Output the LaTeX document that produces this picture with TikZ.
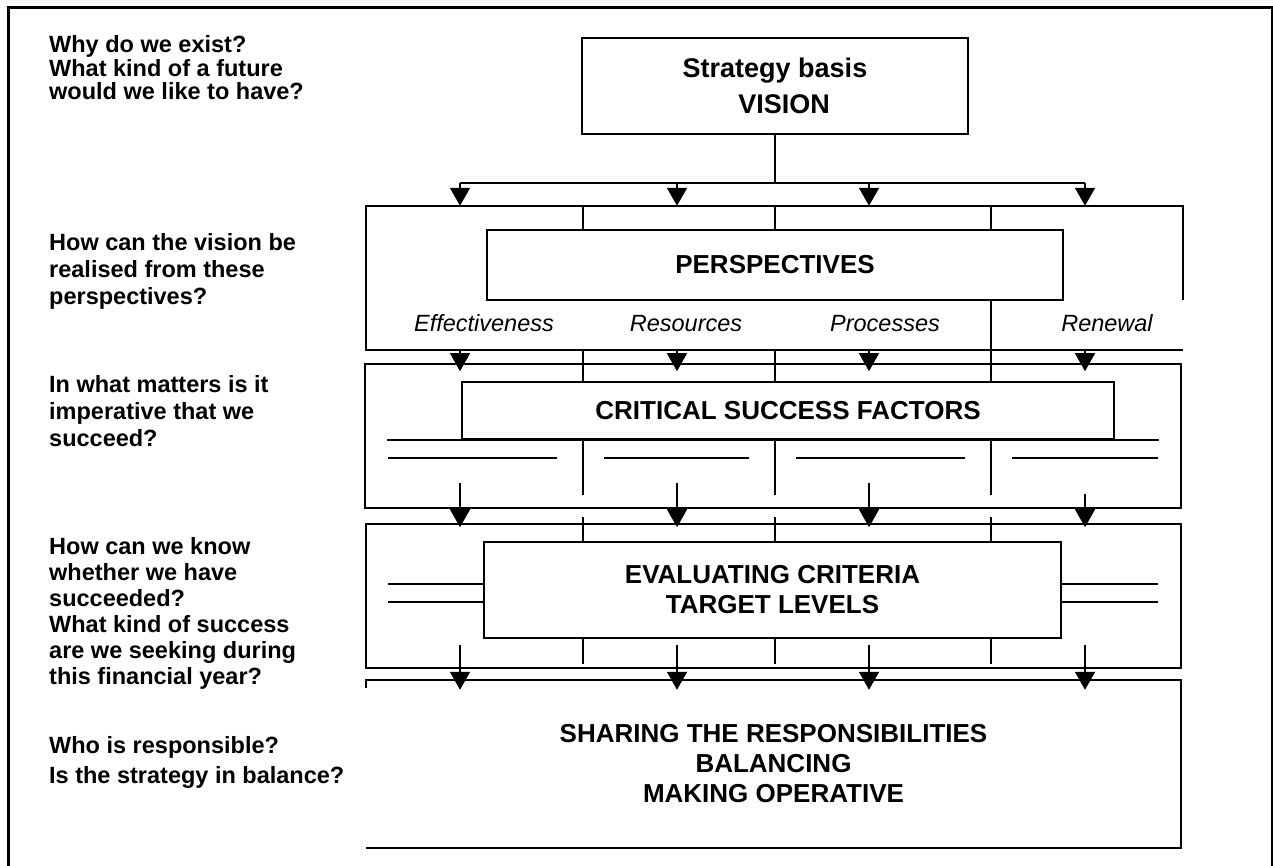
\documentclass[tikz,border=0pt]{standalone}
\usepackage{fontspec}
\setmainfont{Liberation Sans}
\usetikzlibrary{arrows.meta, positioning, calc}

\newcommand{\panelfont}{\fontsize{26}{30}\selectfont\bfseries}
\newcommand{\viewfont}{\fontsize{23.5}{28}\selectfont\itshape}

\tikzstyle{frame} = [line width=3pt]
\tikzstyle{wire} = [line width=1.6pt]
\tikzstyle{panel} = [
  rectangle, draw, line width=1.6pt, inner sep=0pt,
  align=center, font=\panelfont
]
\tikzstyle{shell} = [rectangle, inner sep=0pt]
% anchored on the baseline of the last line
\tikzstyle{question} = [anchor=base west, align=left, inner sep=0pt]
\tikzstyle{view} = [font=\viewfont, inner sep=0pt, anchor=base]
\tikzstyle{arrow} = [-{Triangle[length=18pt, width=20pt]}, line width=1.6pt]

\begin{document}
\begin{tikzpicture}[x=1pt, y=-1pt]
  \useasboundingbox (0,0) rectangle (1273,866);

  % Frame
  \draw[frame] (8,866) -- (8,8) -- (1272,8) -- (1272,866);

  % Questions
  \node[question, font=\fontsize{23.5}{23.5}\selectfont\bfseries] (why) at (49,100)
    {Why do we exist?\\What kind of a future\\would we like to have?};
  \node[question, font=\fontsize{23.5}{27}\selectfont\bfseries] (how) at (49,305)
    {How can the vision be\\realised from these\\perspectives?};
  \node[question, font=\fontsize{23.5}{27}\selectfont\bfseries] (what) at (49,446)
    {In what matters is it\\imperative that we\\succeed?};
  \node[question, font=\fontsize{23.5}{26}\selectfont\bfseries] (know) at (49,684)
    {How can we know\\whether we have\\succeeded?\\What kind of success\\are we seeking during\\this financial year?};
  \node[question, font=\fontsize{23.5}{30}\selectfont\bfseries] (who) at (49,783)
    {Who is responsible?\\Is the strategy in balance?};

  % Boxes
  \node[panel, minimum width=386, minimum height=96,
        font=\fontsize{27}{36}\selectfont\bfseries] (vision) at (775,86)
    {Strategy basis\\\hspace*{18pt}VISION};
  \node[shell, minimum width=817, minimum height=144] (perspout) at (774.5,278) {};
  \node[panel, minimum width=576, minimum height=70] (perspin) at (775,265) {PERSPECTIVES};
  \node[panel, minimum width=816, minimum height=144] (csfout) at (773,436) {};
  \node[panel, fill=white, minimum width=652, minimum height=57] (csfin) at (788,410.5)
    {CRITICAL SUCCESS FACTORS};
  \node[panel, minimum width=815, minimum height=144] (evalout) at (773.5,596) {};
  \node[panel, minimum width=577, minimum height=96] (evalin) at (772.5,590)
    {EVALUATING CRITERIA\\TARGET LEVELS};
  \node[shell, minimum width=815, minimum height=168, align=center, font=\panelfont] (share) at (773.5,764)
    {SHARING THE RESPONSIBILITIES\\BALANCING\\MAKING OPERATIVE};

  % Open sides of the outer boxes
  \draw[wire] ([yshift=-94pt]perspout.north east) -- (perspout.north east)
    -- (perspout.north west) -- (perspout.south west) -- (perspout.south east);
  \draw[wire] ([yshift=-8pt]share.north west) -- (share.north west)
    -- (share.north east) -- (share.south east) -- (share.south west);

  % Perspectives
  \node[view] (eff) at (484,331) {Effectiveness};
  \node[view] (res) at (686,331) {Resources};
  \node[view] (proc) at (885,331) {Processes};
  \node[view] (ren) at (1107,331) {Renewal};

  % Columns and dividers
  \coordinate (col1) at (460,0);
  \coordinate (col2) at (677,0);
  \coordinate (col3) at (869,0);
  \coordinate (col4) at (1085,0);
  \coordinate (div1) at (583,0);
  \coordinate (div2) at (775,0);
  \coordinate (div3) at (991,0);
  \coordinate (bus) at (775,183);

  \foreach \i in {1,2,3}
    \draw[wire] (div\i |- perspout.north) -- (div\i |- perspin.north);
  \foreach \i in {1,2}
    \draw[wire] (div\i |- perspout.south) -- (div\i |- csfin.north);
  \draw[wire] (div3 |- perspin.south) -- (div3 |- csfin.north);
  \foreach \i in {1,2,3} {
    \draw[wire] (div\i |- csfin.south) -- ([yshift=14pt]div\i |- csfout.south);
    \draw[wire] ([yshift=6pt]div\i |- evalout.north) -- (div\i |- evalin.north);
    \draw[wire] (div\i |- evalin.south) -- ([yshift=5pt]div\i |- evalout.south);
  }

  % Rule lines
  \draw[wire] ([xshift=-74pt]csfin.south west) -- ([xshift=44pt]csfin.south east);
  \foreach \a/\b in {388/557, 604/749, 796/965, 1012/1158}
    \draw[wire] (\a,458) -- (\b,458);
  \foreach \y in {584, 602} {
    \draw[wire] (388,\y) -- (evalin.west |- 0,\y);
    \draw[wire] (evalin.east |- 0,\y) -- (1158,\y);
  }

  % Arrows
  \draw[wire] (vision.south) -- (bus);
  \draw[wire] (col1 |- bus) -- (col4 |- bus);
  \foreach \i in {1,...,4} {
    \draw[arrow] (col\i |- bus) -- (col\i |- perspout.north);
    \draw[arrow] (col\i |- perspout.south) -- ([yshift=-8pt]col\i |- csfout.north);
    \draw[arrow] ([yshift=24pt]col\i |- evalout.south) -- ([yshift=-10pt]col\i |- share.north);
  }
  \foreach \i/\s in {1/26, 2/26, 3/26, 4/15}
    \draw[arrow] ([yshift=\s pt]col\i |- csfout.south) -- ([yshift=-4pt]col\i |- evalout.north);

\end{tikzpicture}
\end{document}
